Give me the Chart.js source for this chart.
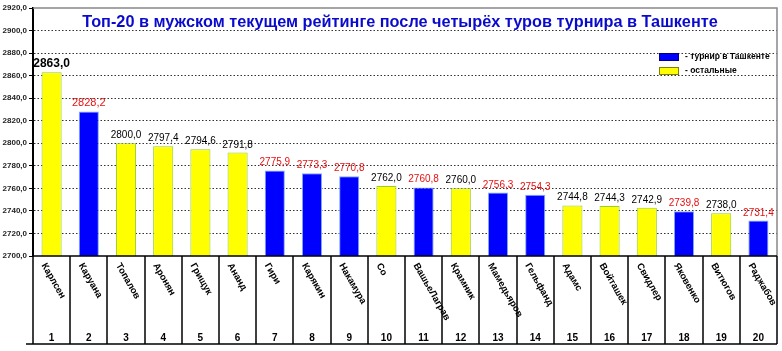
<!DOCTYPE html>
<html>
<head>
<meta charset="utf-8">
<script src="https://cdn.jsdelivr.net/npm/chart.js@4/dist/chart.umd.min.js"></script>
<style>
  html, body { margin: 0; padding: 0; background: #fff; }
  #wrap { width: 782px; height: 351px; }
</style>
</head>
<body>
<div id="wrap"><canvas id="myChart" width="782" height="351"></canvas></div>
<script>
// --- data ---
const ranks = ["1","2","3","4","5","6","7","8","9","10","11","12","13","14","15","16","17","18","19","20"];
const players = ["Карлсен","Каруана","Топалов","Аронян","Грищук","Ананд","Гири","Карякин","Накамура","Со",
                 "ВашьеЛаграв","Крамник","Мамедьяров","Гельфанд","Адамс","Войташек","Свидлер","Яковенко","Витюгов","Раджабов"];
const ratings = [2863.0, 2828.2, 2800.0, 2797.4, 2794.6, 2791.8, 2775.9, 2773.3, 2770.8, 2762.0,
                 2760.8, 2760.0, 2756.3, 2754.3, 2744.8, 2744.3, 2742.9, 2739.8, 2738.0, 2731.4];
// 1 = played in Tashkent
const inTashkent = [0,1,0,0,0,0,1,1,1,0,1,0,1,1,0,0,0,1,0,1];
const yTicks = { min: 2700, max: 2920, step: 20 };
const titleText = "Топ-20 в мужском текущем рейтинге после четырёх туров турнира в Ташкенте";
const legendLabels = ["- турнир в Ташкенте", "- остальные"];

const BLUE = "#0000FF", YELLOW = "#FFFF00";
const fmt = v => v.toFixed(1).replace('.', ',');

const extras = {
  id: 'extras',
  afterDraw(chart) {
    const ctx = chart.ctx;
    const a = chart.chartArea;
    const x = chart.scales.x;
    const n = ranks.length;
    const cw = (a.right - a.left) / n;
    const bot = 344;

    ctx.save();
    // gray frame top / right
    ctx.strokeStyle = '#888';
    ctx.lineWidth = 1.5;
    ctx.beginPath();
    ctx.moveTo(a.left, a.top); ctx.lineTo(a.right, a.top); ctx.lineTo(a.right, a.bottom);
    ctx.stroke();

    // category table under the plot
    ctx.strokeStyle = '#000';
    ctx.lineWidth = 1.5;
    ctx.beginPath();
    ctx.moveTo(a.left, a.bottom); ctx.lineTo(a.right, a.bottom);
    ctx.moveTo(26, bot); ctx.lineTo(a.right, bot);
    for (let i = 0; i <= n; i++) {
      const xx = Math.round(a.left + i * cw);
      ctx.moveTo(xx, a.bottom); ctx.lineTo(xx, bot);
    }
    ctx.stroke();

    ctx.fillStyle = '#000';
    for (let i = 0; i < n; i++) {
      const cx = x.getPixelForValue(i);
      ctx.font = 'bold 10px "Liberation Sans", Arial, sans-serif';
      ctx.textAlign = 'center';
      ctx.textBaseline = 'alphabetic';
      ctx.fillText(ranks[i], cx, 341);
      ctx.save();
      ctx.translate(cx - 8, 264);
      ctx.rotate(Math.PI / 3);
      ctx.font = 'bold 9.5px "Liberation Sans", Arial, sans-serif';
      ctx.textAlign = 'left';
      ctx.textBaseline = 'middle';
      ctx.fillText(players[i], 0, 0);
      ctx.restore();
    }

    // value labels
    const meta = chart.getDatasetMeta(0);
    meta.data.forEach((bar, i) => {
      ctx.fillStyle = inTashkent[i] ? '#E81010' : '#000';
      ctx.textAlign = 'center';
      ctx.textBaseline = 'alphabetic';
      if (i === 0) ctx.font = 'bold 12px "Liberation Sans", Arial, sans-serif';
      else if (i === 1) ctx.font = '11px "Liberation Sans", Arial, sans-serif';
      else ctx.font = '10px "Liberation Sans", Arial, sans-serif';
      ctx.fillText(fmt(ratings[i]), bar.x, bar.y - 5);
    });

    // title
    ctx.fillStyle = '#0A0ACD';
    ctx.font = 'bold 16.3px "Liberation Sans", Arial, sans-serif';
    ctx.textAlign = 'center';
    ctx.textBaseline = 'middle';
    ctx.fillText(titleText, 400, 23);

    // legend
    const items = [[BLUE, '#000080'], [YELLOW, '#808000']];
    items.forEach((c, k) => {
      const ly = 53 + k * 14;
      ctx.fillStyle = c[0];
      ctx.fillRect(659, ly, 19, 7);
      ctx.strokeStyle = c[1];
      ctx.lineWidth = 1;
      ctx.strokeRect(659.5, ly + 0.5, 19, 7);
      ctx.fillStyle = '#000';
      ctx.font = 'bold 8.5px "Liberation Sans", Arial, sans-serif';
      ctx.textAlign = 'left';
      ctx.fillText(legendLabels[k], 685, ly + 4);
    });
    ctx.restore();
  }
};

new Chart(document.getElementById('myChart').getContext('2d'), {
  type: 'bar',
  data: {
    labels: ranks,
    datasets: [{
      data: ratings,
      backgroundColor: inTashkent.map(t => t ? BLUE : YELLOW),
      borderColor: inTashkent.map(t => t ? '#7FA8FF' : '#9ACD32'),
      borderWidth: 1,
      barPercentage: 0.54,
      categoryPercentage: 1
    }]
  },
  plugins: [extras],
  options: {
    responsive: false,
    animation: false,
    events: [],
    layout: { padding: { top: 8, right: 5, bottom: 95, left: 0 } },
    plugins: { legend: { display: false }, tooltip: { enabled: false } },
    scales: {
      x: { display: false },
      y: {
        min: yTicks.min,
        max: yTicks.max,
        afterFit(scale) { scale.width = 33; },
        ticks: {
          stepSize: yTicks.step,
          padding: 2,
          color: '#222',
          font: { size: 8, weight: 'bold', family: '"Liberation Sans", Arial, sans-serif' },
          callback: v => fmt(v)
        },
        grid: {
          color: ctx => (ctx.tick && (ctx.tick.value === yTicks.max || ctx.tick.value === yTicks.min)) ? 'rgba(0,0,0,0)' : '#333',
          lineWidth: 1,
          tickLength: 4,
          tickColor: '#000'
        },
        border: { display: true, color: '#000', width: 2, dash: [1.5, 2] }
      }
    }
  }
});
</script>
</body>
</html>
